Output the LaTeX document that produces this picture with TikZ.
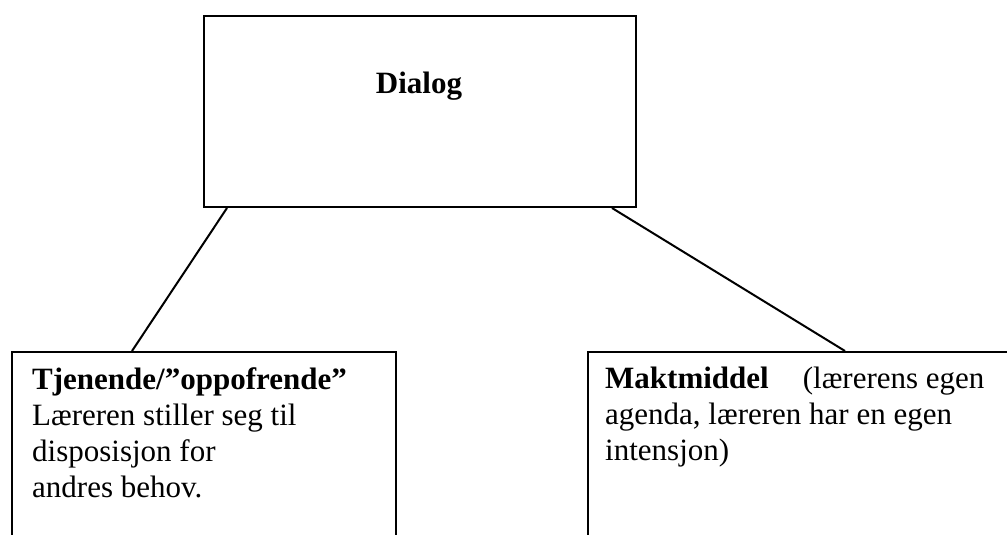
\documentclass[tikz,border=0pt]{standalone}
\usepackage{fontspec}
\setmainfont{Liberation Serif}
\usetikzlibrary{calc}

\tikzset{
  frame/.style={draw=black, line width=2pt, fill=none, inner sep=0pt, anchor=north west},
  link/.style={draw=black, line width=2pt},
  txt/.style={inner sep=0pt, anchor=base west, font=\fontsize{31}{35.7}\selectfont},
  head/.style={txt, anchor=base, font=\fontsize{31}{35.7}\selectfont\bfseries}
}

\begin{document}
\begin{tikzpicture}[x=1pt, y=1pt]
  \useasboundingbox (0,0) rectangle (1007,-535);
  \clip (0,0) rectangle (1007,-535);

  % top box
  \node[frame, minimum width=432pt, minimum height=191pt] (dlg) at (203,-15) {};
  \node[head] (dlgtxt) at (419,-93) {Dialog};

  % lower boxes (they run past the lower edge of the page)
  \node[frame, minimum width=384pt, minimum height=230pt] (left) at (11,-351) {};
  \node[frame, minimum width=440pt, minimum height=230pt] (right) at (587,-351) {};

  % left box text
  \node[txt] (l1) at (32,-389) {\textbf{Tjenende/”oppofrende”}};
  \node[txt] (l2) at (32,-425) {Læreren stiller seg til};
  \node[txt] (l3) at (32,-461) {disposisjon for};
  \node[txt] (l4) at (32,-497) {andres behov.};

  % right box text
  \node[txt] (r1) at (605,-388) {\textbf{Maktmiddel}\hspace{34pt}(lærerens egen};
  \node[txt] (r2) at (605,-424) {agenda, læreren har en egen};
  \node[txt] (r3) at (605,-460) {intensjon)};

  % connectors
  \coordinate (dl) at ($(dlg.south west)+(24,0)$);
  \coordinate (dr) at ($(dlg.south east)+(-25,0)$);
  \coordinate (lt) at ($(left.north west)+(121,0)$);
  \coordinate (rt) at ($(right.north west)+(258,0)$);
  \draw[link] (dl) -- (lt);
  \draw[link] (dr) -- (rt);
\end{tikzpicture}
\end{document}
